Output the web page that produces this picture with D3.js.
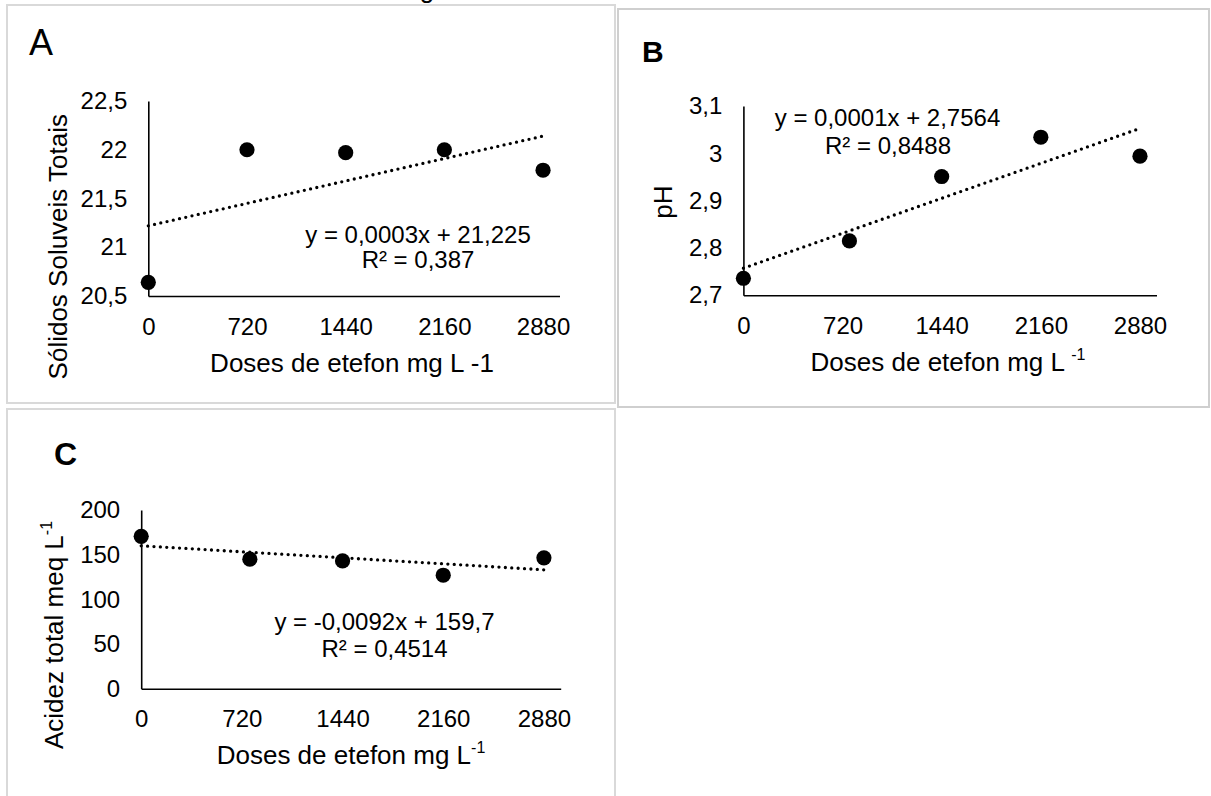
<!DOCTYPE html>
<html>
<head>
<meta charset="utf-8">
<script src="https://cdn.jsdelivr.net/npm/d3@7"></script>
<style>
  html, body { margin: 0; padding: 0; background: #fff; }
  svg { display: block; font-family: "Liberation Sans", Arial, sans-serif; }
</style>
</head>
<body>
<svg id="chart" width="1211" height="796"></svg>
<script>
// ---------- data ----------
const xTickValues = [0, 720, 1440, 2160, 2880];

const solidosX = [0, 720, 1440, 2160, 2880];
const solidosY = [20.64, 22.0, 21.97, 22.0, 21.79];
const solidosTicks = [20.5, 21, 21.5, 22, 22.5];

const phX = [0, 770, 1440, 2160, 2880];
const phY = [2.736, 2.815, 2.951, 3.034, 2.994];
const phTicks = [2.7, 2.8, 2.9, 3.0, 3.1];

const acidezX = [0, 777, 1440, 2160, 2880];
const acidezY = [170.5, 145, 143, 127, 146.5];
const acidezTicks = [0, 50, 100, 150, 200];

const eqA = ["y = 0,0003x + 21,225", "R² = 0,387"];
const eqB = ["y = 0,0001x + 2,7564", "R² = 0,8488"];
const eqC = ["y = -0,0092x + 159,7", "R² = 0,4514"];

// ---------- drawing ----------
const svg = d3.select("#chart");
const fmt = d => String(+d.toFixed(2)).replace(".", ",");

// clipped caption fragment at the very top (as in the reference)
svg.append("text").attr("x", 427).attr("y", -2.5).attr("text-anchor", "middle")
  .attr("font-size", 26).text("g");

// panel frames
const frame = (x, y, w, h, c) => svg.append("rect").attr("x", x).attr("y", y)
  .attr("width", w).attr("height", h).attr("fill", "none").attr("stroke", c).attr("stroke-width", 2);
frame(7, 5, 608, 398, "#d9d9d9");
frame(618, 9, 591, 398, "#cfcfcf");
frame(7, 409, 608, 400, "#d9d9d9");

function regression(xs, ys) {
  const mx = d3.mean(xs), my = d3.mean(ys);
  let sxy = 0, sxx = 0;
  xs.forEach((x, i) => { sxy += (x - mx) * (ys[i] - my); sxx += (x - mx) * (x - mx); });
  const b = sxy / sxx;
  return { slope: b, intercept: my - b * mx };
}

function panel(cfg) {
  const g = svg.append("g");
  const x = d3.scaleLinear().domain([0, 3000]).range(cfg.xRange);
  const y = d3.scaleLinear().domain(cfg.yDomain).range(cfg.yRange);

  const ax = g.append("g").attr("transform", `translate(0,${cfg.yRange[0]})`)
    .call(d3.axisBottom(x).tickValues(xTickValues).tickSize(0).tickPadding(21.5).tickFormat(d => d));
  const ay = g.append("g").attr("transform", `translate(${cfg.xRange[0]},0)`)
    .call(d3.axisLeft(y).tickValues(cfg.yTicks).tickSize(0).tickPadding(21).tickFormat(fmt));
  [ax, ay].forEach(a => {
    a.select(".domain").attr("stroke", "#000").attr("stroke-width", 1.6);
    a.selectAll("text").attr("font-size", 24).attr("fill", "#000")
      .attr("font-family", "'Liberation Sans', Arial, sans-serif");
  });

  // trendline (least squares over the data)
  const r = regression(cfg.xs, cfg.ys);
  const ends = [0, 2880];
  g.append("line")
    .attr("x1", x(ends[0])).attr("y1", y(r.intercept + r.slope * ends[0]))
    .attr("x2", x(ends[1])).attr("y2", y(r.intercept + r.slope * ends[1]))
    .attr("stroke", "#000").attr("stroke-width", 3.3)
    .attr("stroke-linecap", "round").attr("stroke-dasharray", "0 6.4");

  // points
  g.selectAll("circle.pt").data(cfg.xs.map((d, i) => [d, cfg.ys[i]])).join("circle")
    .attr("class", "pt").attr("cx", d => x(d[0])).attr("cy", d => y(d[1]))
    .attr("r", 7.6).attr("fill", "#000");

  // equation
  cfg.eq.forEach((t, i) => {
    g.append("text").attr("x", cfg.eqPos[i][0]).attr("y", cfg.eqPos[i][1])
      .attr("text-anchor", "middle").attr("font-size", 24).text(t);
  });

  // x title
  const xt = g.append("text").attr("x", cfg.xTitlePos[0]).attr("y", cfg.xTitlePos[1])
    .attr("text-anchor", "middle").attr("font-size", 26);
  xt.append("tspan").text(cfg.xTitle[0]);
  if (cfg.xTitle[1]) xt.append("tspan").attr("font-size", 16).attr("dy", -11).text(cfg.xTitle[1]);

  // y title
  const yt = g.append("text")
    .attr("transform", `translate(${cfg.yTitlePos[0]},${cfg.yTitlePos[1]}) rotate(-90)`)
    .attr("text-anchor", "middle").attr("font-size", 26);
  yt.append("tspan").text(cfg.yTitle[0]);
  if (cfg.yTitle[1]) yt.append("tspan").attr("font-size", 16).attr("dy", -11).text(cfg.yTitle[1]);

  // panel letter
  svg.append("text").attr("x", cfg.letterPos[0]).attr("y", cfg.letterPos[1])
    .attr("font-size", cfg.letterSize).attr("font-weight", cfg.letterWeight).text(cfg.letter);
}

panel({
  xs: solidosX, ys: solidosY, yDomain: [20.5, 22.5], yTicks: solidosTicks,
  xRange: [148.3, 559.5], yRange: [296, 101],
  eq: eqA, eqPos: [[418, 243], [418, 268]],
  xTitle: ["Doses de etefon mg L -1"], xTitlePos: [352, 372],
  yTitle: ["Sólidos Soluveis Totais"], yTitlePos: [67, 246.7],
  letter: "A", letterPos: [29, 55], letterSize: 36, letterWeight: "normal"
});

panel({
  xs: phX, ys: phY, yDomain: [2.7, 3.1], yTicks: phTicks,
  xRange: [743.4, 1156.5], yRange: [295.3, 106],
  eq: eqB, eqPos: [[887.5, 125.6], [888, 153.6]],
  xTitle: ["Doses de etefon mg L ", "-1"], xTitlePos: [948, 371],
  yTitle: ["pH"], yTitlePos: [672, 202],
  letter: "B", letterPos: [642, 62], letterSize: 30, letterWeight: "bold"
});

panel({
  xs: acidezX, ys: acidezY, yDomain: [0, 200], yTicks: acidezTicks,
  xRange: [141.2, 560.7], yRange: [688.7, 510],
  eq: eqC, eqPos: [[384.5, 630.3], [384.5, 657]],
  xTitle: ["Doses de etefon mg L", "-1"], xTitlePos: [351, 764],
  yTitle: ["Acidez total meq L", "-1"], yTitlePos: [63, 635],
  letter: "C", letterPos: [54, 465], letterSize: 32, letterWeight: "bold"
});
</script>
</body>
</html>
